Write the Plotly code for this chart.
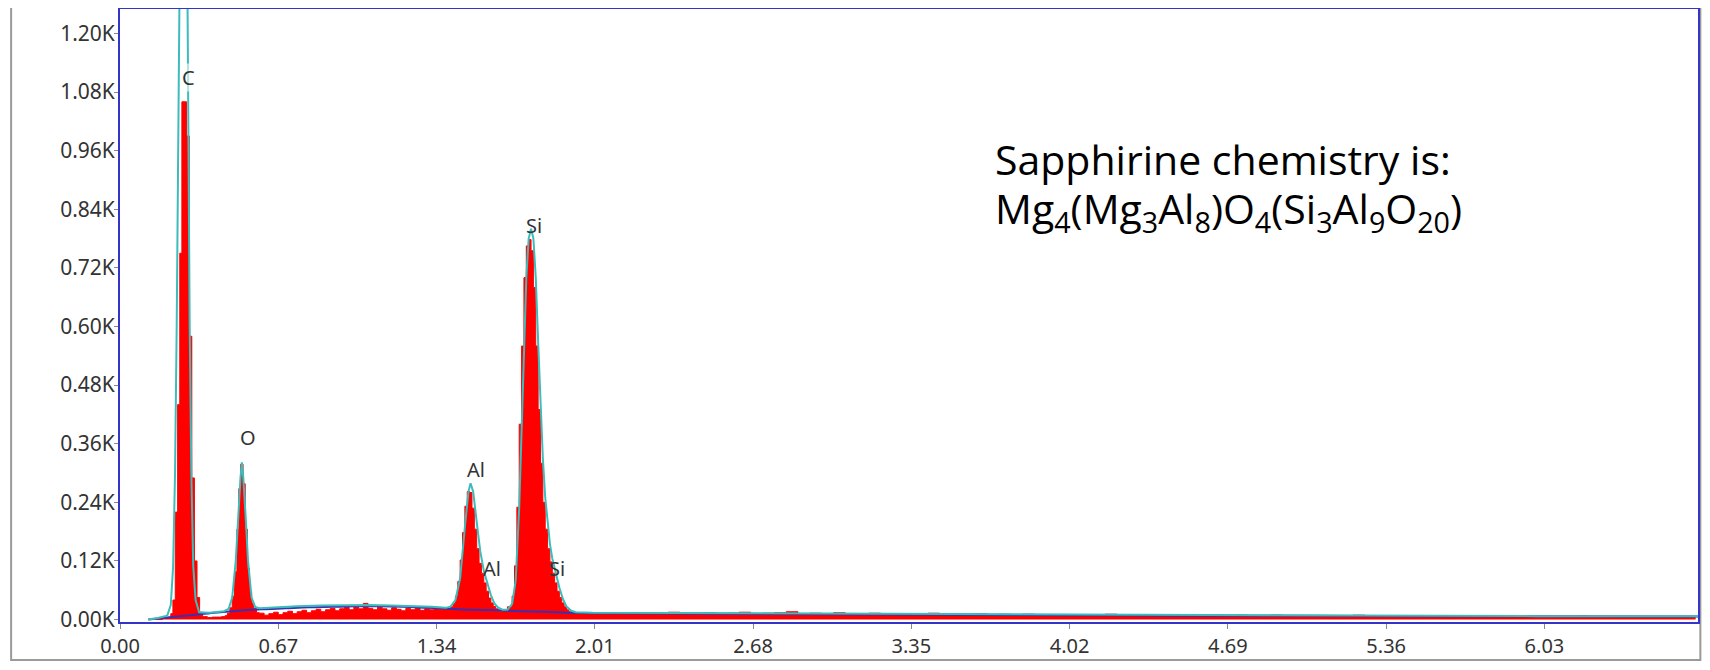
import plotly.graph_objects as go

# ---------------- data ----------------
# measured spectrum (red), step-histogram: energy (keV, left edge) / counts
spec_E = [0.15, 0.18, 0.205, 0.215, 0.224, 0.234, 0.244, 0.253, 0.262, 0.282, 0.293, 0.304, 0.315, 0.326, 0.337,
          0.35, 0.37, 0.39, 0.41, 0.43,
          0.445, 0.455, 0.465, 0.475, 0.485, 0.495, 0.503, 0.511, 0.521, 0.530, 0.539, 0.548, 0.557, 0.566, 0.578,
          0.59, 0.61, 0.63, 0.65, 0.67, 0.69, 0.71, 0.73, 0.75, 0.77, 0.79, 0.81, 0.83, 0.85, 0.87, 0.89, 0.91, 0.93,
          0.95, 0.97, 0.99, 1.01, 1.03, 1.05, 1.07, 1.09, 1.11, 1.13, 1.15, 1.17, 1.19, 1.21, 1.23, 1.25, 1.27, 1.29,
          1.31, 1.33, 1.35, 1.37,
          1.39, 1.40, 1.41, 1.42, 1.43, 1.44, 1.45, 1.46, 1.47, 1.48, 1.49, 1.50, 1.51, 1.52, 1.53, 1.54, 1.55, 1.56,
          1.57, 1.58, 1.59, 1.60, 1.61, 1.62, 1.64,
          1.66, 1.67, 1.68, 1.69, 1.70, 1.71, 1.72, 1.73, 1.74, 1.75, 1.76, 1.77, 1.78, 1.79, 1.80, 1.81, 1.82, 1.83,
          1.84, 1.85, 1.86, 1.87, 1.88, 1.89, 1.90, 1.91,
          1.92, 1.97, 2.02, 2.07, 2.12, 2.17, 2.22, 2.27, 2.32, 2.37, 2.42, 2.47, 2.52, 2.57, 2.62, 2.67, 2.72, 2.77,
          2.82, 2.87, 2.92, 2.97, 3.02, 3.07, 3.12, 3.17, 3.22, 3.27, 3.32, 3.37, 3.42, 3.47, 3.52, 3.57, 3.62, 3.67,
          3.72, 3.77, 3.82, 3.87, 3.92, 3.97, 4.02, 4.07, 4.12, 4.17, 4.22, 4.27, 4.32, 4.37, 4.42, 4.47, 4.52, 4.57,
          4.62, 4.67, 4.72, 4.77, 4.82, 4.87, 4.92, 4.97, 5.02, 5.07, 5.12, 5.17, 5.22, 5.27, 5.32, 5.37, 5.42, 5.47,
          5.52, 5.57, 5.62, 5.67, 5.72, 5.77, 5.82, 5.87, 5.92, 5.97, 6.02, 6.07, 6.12, 6.17, 6.22, 6.27, 6.32, 6.37,
          6.42, 6.47, 6.52, 6.57, 6.62, 6.67, 6.70]
spec_counts = [0, 3, 5, 12, 40, 220, 440, 750, 1060, 990, 580, 290, 120, 45, 15,
               6, 4, 5, 5, 6,
               8, 13, 24, 48, 98, 185, 268, 318, 278, 185, 105, 58, 34, 23, 14,
               13, 9, 12, 15, 10, 14, 17, 12, 16, 19, 14, 18, 21, 16, 20, 23, 18, 22,
               25, 20, 26, 22, 33, 23, 20, 25, 22, 19, 24, 21, 18, 23, 20, 26, 19, 22,
               20, 24, 21, 23,
               22, 26, 33, 48, 78, 122, 178, 232, 262, 260, 228, 185, 145, 115, 95, 75, 58,
               44, 34, 27, 22, 19, 17, 18,
               26, 48, 110, 230, 400, 560, 700, 765, 778, 755, 680, 560, 430, 320, 240, 185, 145, 118,
               95, 75, 58, 45, 34, 26, 20, 16,
               15, 14, 13, 14, 12, 13, 14, 12, 13, 15, 12, 13, 14, 12, 13, 15, 12, 13,
               14, 16, 12, 13, 12, 14, 11, 12, 13, 11, 12, 11, 12, 13, 11, 10, 11, 12,
               10, 11, 10, 11, 10, 9, 10, 9, 10, 9, 11, 9, 8, 9, 8, 9, 8, 9,
               8, 10, 8, 9, 8, 7, 9, 8, 7, 8, 7, 8, 7, 9, 7, 8, 7, 8,
               7, 6, 7, 6, 7, 6, 7, 6, 6, 7, 6, 5, 6, 5, 7, 5, 6, 5,
               6, 5, 6, 5, 6, 5, 5]

# fitted total curve (teal)
fit_E = [0.12, 0.16, 0.20, 0.215, 0.225, 0.233, 0.240, 0.247, 0.252, 0.268, 0.284, 0.289, 0.295, 0.302,
         0.31, 0.32, 0.335, 0.38, 0.42, 0.44, 0.46, 0.475, 0.49, 0.50, 0.51, 0.516, 0.522, 0.532, 0.542, 0.557,
         0.572, 0.59, 0.65, 0.75, 0.85, 0.95, 1.05, 1.15, 1.25, 1.32, 1.38, 1.40, 1.42, 1.44, 1.46, 1.475, 1.484,
         1.495, 1.51, 1.525, 1.54, 1.555, 1.57, 1.585, 1.60, 1.62, 1.64, 1.66, 1.675, 1.69, 1.70, 1.71, 1.72,
         1.73, 1.74, 1.75, 1.76, 1.77, 1.78, 1.79, 1.80, 1.81, 1.82, 1.83, 1.845, 1.86, 1.875, 1.89, 1.91, 1.93,
         2.0, 2.5, 3.0, 3.5, 4.0, 4.5, 5.0, 5.5, 6.0, 6.7]
fit_counts = [0, 3, 8, 30, 110, 300, 600, 1000, 1400, 2200, 1400, 1000, 600, 300,
              110, 40, 15, 14, 16, 17, 22, 45, 120, 210, 290, 322, 290, 210, 120, 45,
              26, 23, 25, 27, 29, 30, 30, 29, 28, 26, 24, 27, 40, 85, 190, 262, 279,
              262, 200, 140, 100, 75, 50, 33, 25, 20, 20, 32, 80, 230, 390, 560, 700,
              780, 800, 780, 700, 570, 440, 330, 250, 195, 155, 125, 95, 65, 42, 27, 18, 15,
              14, 13, 12, 11, 10, 9, 8, 8, 7, 7]

# background curve (dark blue)
bkg_E = [0.12, 0.2, 0.3, 0.4, 0.5, 0.6, 0.7, 0.8, 0.9, 1.0, 1.1, 1.2, 1.3, 1.4, 1.5, 1.6, 1.7, 1.8, 1.9,
         2.0, 2.5, 3.0, 3.5, 4.0, 4.5, 5.0, 5.5, 6.0, 6.7]
bkg_counts = [0, 4, 9, 14, 18, 21, 23, 25, 26, 27, 27, 26, 24, 22, 20, 19, 17, 16, 14,
              13, 12, 11, 10, 9, 8, 8, 7, 7, 6]

# peak labels
label_text = ["C", "O", "Al", "Al", "Si", "Si"]
label_E = [0.292, 0.541, 1.507, 1.574, 1.752, 1.849]
label_counts = [1109, 372, 308, 105, 806, 105]

# axis ticks
x_tickvals = [0.00, 0.67, 1.34, 2.01, 2.68, 3.35, 4.02, 4.69, 5.36, 6.03]
x_ticktext = ["0.00", "0.67", "1.34", "2.01", "2.68", "3.35", "4.02", "4.69", "5.36", "6.03"]
y_tickvals = [0, 120, 240, 360, 480, 600, 720, 840, 960, 1080, 1200]
y_ticktext = ["0.00K", "0.12K", "0.24K", "0.36K", "0.48K", "0.60K", "0.72K", "0.84K", "0.96K", "1.08K", "1.20K"]

note_line1 = "Sapphirine chemistry is:"
note_line2 = ("Mg<sub>4</sub>(Mg<sub>3</sub>Al<sub>8</sub>)O<sub>4</sub>"
              "(Si<sub>3</sub>Al<sub>9</sub>O<sub>20</sub>)")

# ---------------- figure ----------------
fig = go.Figure()
fig.add_trace(go.Scatter(x=spec_E, y=spec_counts, mode="lines", line=dict(color="#ff0000", width=1, shape="hv"),
                         fill="tozeroy", fillcolor="#ff0000", hoverinfo="skip"))
fig.add_trace(go.Scatter(x=bkg_E, y=bkg_counts, mode="lines", line=dict(color="#3a2fb0", width=2, shape="spline"),
                         hoverinfo="skip"))
fig.add_trace(go.Scatter(x=fit_E, y=fit_counts, mode="lines", line=dict(color="#3dbcbc", width=2),
                         hoverinfo="skip"))

for t, xe, yc in zip(label_text, label_E, label_counts):
    fig.add_annotation(x=xe, y=yc, text=t, showarrow=False, xanchor="center", yanchor="middle",
                       font=dict(family="Noto Sans", size=20, color="#333333"),
                       bgcolor="rgba(255,255,255,0.6)" if t == "C" else None, borderpad=0)

fig.add_annotation(xref="paper", yref="paper", x=0.553, y=0.756, text=note_line1, showarrow=False,
                   xanchor="left", yanchor="middle", align="left",
                   font=dict(family="Open Sans", size=41, color="#000000"))
fig.add_annotation(xref="paper", yref="paper", x=0.553, y=0.672, text=note_line2, showarrow=False,
                   xanchor="left", yanchor="middle", align="left",
                   font=dict(family="Open Sans", size=41, color="#000000"))

# outer grey frame
fig.add_shape(type="rect", xref="paper", yref="paper", x0=-0.069, x1=1.0015, y0=-0.062, y1=1.02,
              line=dict(color="#9a9a9a", width=2), layer="below")

# page body adds an 8px offset; the figure is sized/margined so the plot area lands at
# x 120..1698, y 9..622 in the 1710x670 window
fig.update_layout(
    width=1694, height=654,
    margin=dict(l=112, r=4, t=1, b=40, autoexpand=False),
    paper_bgcolor="white", plot_bgcolor="white",
    showlegend=False,
    font=dict(family="Noto Sans", size=20, color="#333333"),
)
fig.update_xaxes(range=[0, 6.68], tickvals=x_tickvals, ticktext=x_ticktext, ticks="outside", ticklen=5,
                 tickcolor="#888888", showgrid=False, zeroline=False, showline=True, linecolor="#3434c8",
                 linewidth=2, mirror=True, automargin=False, tickfont=dict(size=20, color="#333333"))
fig.update_yaxes(range=[-5, 1250], tickvals=y_tickvals, ticktext=y_ticktext, ticks="outside", ticklen=4,
                 ticklabelstandoff=-5,
                 tickcolor="#888888", showgrid=False, zeroline=False, showline=True, linecolor="#3434c8",
                 linewidth=2, mirror=True, automargin=False, tickfont=dict(size=21, color="#333333"))

fig.write_html("out.html")
